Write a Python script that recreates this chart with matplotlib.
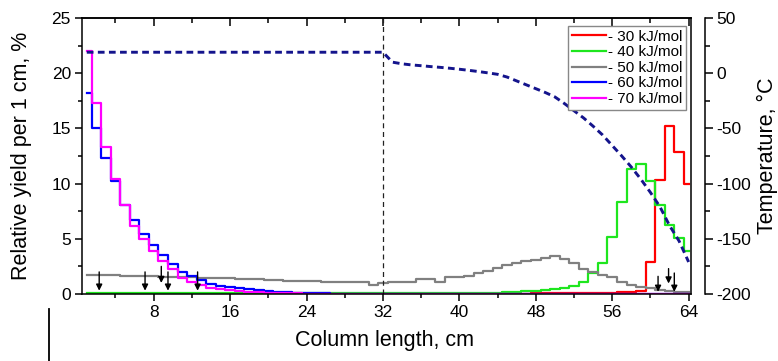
import matplotlib
matplotlib.use("Agg")
import matplotlib.pyplot as plt
from matplotlib.ticker import MultipleLocator
from matplotlib.lines import Line2D

plt.rcParams["font.family"] = ["Liberation Sans", "DejaVu Sans"]

# column position of each 1 cm slice
column_cm = list(range(1, 65))

# relative yield per 1 cm, %
yield_30 = [0.0] * 40 + [0.02, 0.02, 0.02, 0.03, 0.03, 0.04, 0.04, 0.05, 0.05, 0.06,
                         0.07, 0.08, 0.1, 0.1, 0.12, 0.12, 0.15, 0.22, 0.3, 2.9,
                         10.3, 15.2, 12.9, 10.0]
yield_40 = [0.05] * 30 + [0.07, 0.07, 0.08, 0.08, 0.08, 0.08, 0.09, 0.09, 0.1, 0.1,
                          0.1, 0.11, 0.12, 0.13, 0.15, 0.2, 0.25, 0.3, 0.35, 0.45,
                          0.51, 0.73, 1.12, 1.87, 2.78, 5.2, 8.37, 11.3, 11.8, 10.24,
                          8.1, 6.25, 5.1, 3.9]
yield_50 = [1.68, 1.68, 1.7, 1.76, 1.62, 1.62, 1.6, 1.6, 1.58, 1.56,
            1.55, 1.52, 1.48, 1.45, 1.43, 1.42, 1.38, 1.35, 1.32, 1.3,
            1.25, 1.22, 1.2, 1.18, 1.15, 1.13, 1.12, 1.1, 1.08, 1.05,
            0.85, 1.02, 1.05, 1.05, 1.05, 1.33, 1.33, 1.05, 1.5, 1.55,
            1.66, 1.87, 2.05, 2.33, 2.6, 2.8, 3.0, 3.12, 3.27, 3.4,
            3.15, 2.85, 2.3, 2.0, 1.7, 1.5, 1.1, 0.8, 0.65, 0.5,
            0.4, 0.3, 0.2, 0.15]
yield_60 = [18.2, 15.0, 12.3, 10.2, 8.1, 6.7, 5.4, 4.4, 3.5, 2.7,
            2.0, 1.6, 1.25, 0.95, 0.75, 0.6, 0.5, 0.42, 0.35, 0.28,
            0.22, 0.16, 0.12, 0.09, 0.07, 0.05, 0.04, 0.03, 0.03, 0.02,
            0.02, 0.02] + [0.01] * 32
yield_70 = [22.0, 17.3, 13.3, 10.4, 8.1, 6.2, 5.0, 3.9, 3.0, 2.25,
            1.45, 1.05, 0.78, 0.55, 0.42, 0.32, 0.25, 0.19, 0.14, 0.1,
            0.08, 0.06, 0.05, 0.04, 0.03, 0.02, 0.02] + [0.01] * 37

series_labels = ["- 30 kJ/mol", "- 40 kJ/mol", "- 50 kJ/mol", "- 60 kJ/mol", "- 70 kJ/mol"]
series_colors = ["#ff0000", "#1ee61e", "#808080", "#0000ff", "#ff00ff"]

# temperature profile along the column, degC
temp_x = [1, 32] + list(range(33, 65))
temp_c = [19, 19, 10, 8.5, 7.5, 6.8, 6.0, 5.3, 4.5, 3.6, 2.6, 1.5,
          0.3, -1.0, -3.5, -7.0, -10.5, -14.0, -17.5, -21.5, -27.5, -34.0,
          -40.5, -48.0, -56.0, -65.5, -75.0, -85.0, -96.0, -108.0, -121.0, -138.0,
          -152.0, -171.0]

# arrows marking positions on the column
arrow_x = [2.3, 7.1, 8.8, 9.5, 12.6, 60.8, 61.9, 62.5]
arrow_top = [2.0, 2.0, 2.5, 2.0, 2.0, 1.6, 2.3, 1.9]
arrow_tip = [0.3, 0.3, 1.0, 0.3, 0.3, 0.2, 0.95, 0.2]

fig = plt.figure(figsize=(7.78, 3.61), dpi=100)
ax = fig.add_axes([0.1054, 0.1856, 0.7828, 0.7645])

series = [yield_30, yield_40, yield_50, yield_60, yield_70]
handles = []
for vals, col, lab in zip(series, series_colors, series_labels):
    h, = ax.step(column_cm, vals, where="mid", color=col, lw=1.6, label=lab)
    handles.append(h)

ax.axvline(32, color="#222222", lw=0.9, ls=(0, (4, 3)))

for x, top, tip in zip(arrow_x, arrow_top, arrow_tip):
    ax.annotate("", xy=(x, tip), xytext=(x, top),
                arrowprops=dict(arrowstyle="-|>", color="black", lw=1.0,
                                mutation_scale=9, shrinkA=0, shrinkB=0))

ax.set_xlim(0.5, 64.25)
ax.set_ylim(0, 25)
ax.xaxis.set_major_locator(MultipleLocator(8))
ax.xaxis.set_minor_locator(MultipleLocator(4))
ax.yaxis.set_major_locator(MultipleLocator(5))
ax.yaxis.set_minor_locator(MultipleLocator(2.5))
ax.tick_params(axis="x", which="both", direction="out", bottom=True, top=False,
               labelsize=12.5, pad=3)
ax.tick_params(axis="x", which="major", length=5, width=1.1)
ax.tick_params(axis="x", which="minor", length=3, width=1.1)
ax.tick_params(axis="y", which="both", direction="out", left=True, right=False,
               labelsize=12.5, pad=3)
ax.tick_params(axis="y", which="major", length=5, width=1.1)
ax.tick_params(axis="y", which="minor", length=3, width=1.1)
for s in ax.spines.values():
    s.set_linewidth(1.1)

# inward ticks along the top of the frame
top = ax.secondary_xaxis("top")
top.xaxis.set_major_locator(MultipleLocator(8))
top.xaxis.set_minor_locator(MultipleLocator(4))
top.tick_params(which="both", direction="in", labeltop=False, width=1.1)
top.tick_params(which="major", length=6)
top.tick_params(which="minor", length=3.5)
top.spines["top"].set_linewidth(1.1)

ax.set_xlabel("Column length, cm", fontsize=15.5, va="center")
ax.xaxis.set_label_coords(0.4975, -0.167)
ax.set_ylabel("Relative yield per 1 cm, %", fontsize=15.5, va="center")
ax.yaxis.set_label_coords(-0.1, 0.5)

# temperature on a detached right axis
ax2 = ax.twinx()
ax2.plot(temp_x, temp_c, color="#14148c", lw=2.1, ls=(0, (2.3, 1.5)))
ax2.set_ylim(-200, 50)
ax2.yaxis.set_major_locator(MultipleLocator(50))
ax2.yaxis.set_minor_locator(MultipleLocator(25))
for side in ["top", "bottom", "left"]:
    ax2.spines[side].set_visible(False)
ax2.spines["right"].set_position(("outward", 10))
ax2.spines["right"].set_linewidth(1.1)
ax2.tick_params(axis="y", which="both", direction="out", labelsize=12.5, pad=2, width=1.1)
ax2.tick_params(axis="y", which="major", length=6)
ax2.tick_params(axis="y", which="minor", length=3.5)
ax2.yaxis.set_major_formatter(lambda v, pos: f"{int(v)}")
ax2.set_ylabel("Temperature, \u00b0C", fontsize=15.5, va="center", rotation=90)
ax2.yaxis.set_label_coords(1.125, 0.5)

leg = ax2.legend(handles=handles, loc="upper right", bbox_to_anchor=(0.9918, 0.971),
                 borderaxespad=0, fontsize=11, frameon=True, fancybox=False,
                 framealpha=1, edgecolor="#888888", handlelength=2.2,
                 handletextpad=0.15, labelspacing=0.1, borderpad=0.25)
leg.get_frame().set_linewidth(1.0)

# stray vertical rule at the lower left of the original image
fig.add_artist(Line2D([0.0636, 0.0636], [0.0, 0.144], color="black", lw=1.3))

fig.savefig("out.png", dpi=100)
